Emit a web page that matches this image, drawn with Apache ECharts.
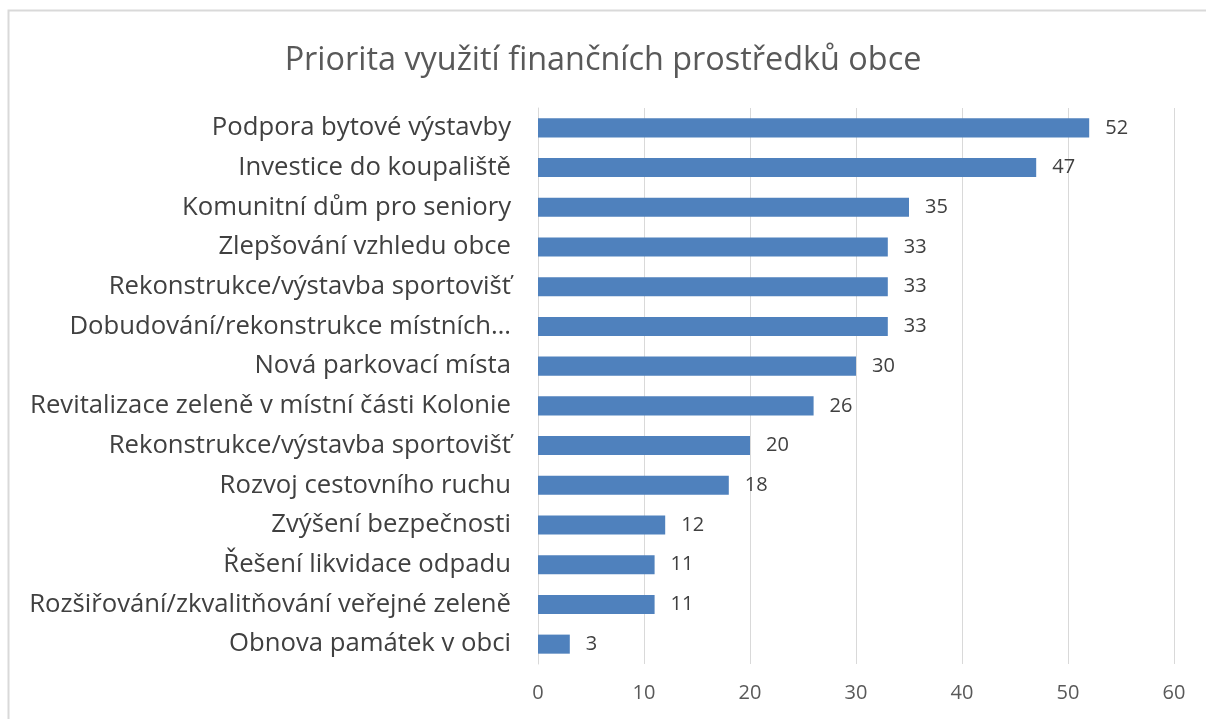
<!DOCTYPE html>
<html><head><meta charset="utf-8">
<script src="https://cdn.jsdelivr.net/npm/echarts@6/dist/echarts.min.js"></script>
<style>html,body{margin:0;padding:0;background:#fff}#c{width:1206px;height:719px}</style>
</head><body><div id="c"></div>
<script>
const title = 'Priorita využití finančních prostředků obce';
const categories = [
  'Podpora bytové výstavby',
  'Investice do koupaliště',
  'Komunitní dům pro seniory',
  'Zlepšování vzhledu obce',
  'Rekonstrukce/výstavba sportovišť',
  'Dobudování/rekonstrukce místních…',
  'Nová parkovací místa',
  'Revitalizace zeleně v místní části Kolonie',
  'Rekonstrukce/výstavba sportovišť',
  'Rozvoj cestovního ruchu',
  'Zvýšení bezpečnosti',
  'Řešení likvidace odpadu',
  'Rozšiřování/zkvalitňování veřejné zeleně',
  'Obnova památek v obci'
];
const values = [52, 47, 35, 33, 33, 33, 30, 26, 20, 18, 12, 11, 11, 3];
const xTicks = [0, 10, 20, 30, 40, 50, 60];

const font = '"Open Sans", "Noto Sans", sans-serif';
const chart = echarts.init(document.getElementById('c'));
chart.setOption({
  animation: false,
  title: {text: title, left: 'center', top: 40,
    textStyle: {fontFamily: font, fontSize: 32.4, fontWeight: 'normal', color: '#595959'}},
  graphic: [{type: 'rect', shape: {x: 8.5, y: 10.5, width: 1300, height: 800},
    style: {fill: 'none', stroke: '#d9d9d9', lineWidth: 2}, silent: true}],
  grid: {left: 538, right: 32, top: 108, bottom: 55},
  xAxis: {type: 'value', min: xTicks[0], max: xTicks[xTicks.length-1], interval: 10,
    axisLine: {show: false}, axisTick: {show: false},
    splitLine: {lineStyle: {color: '#d9d9d9', width: 1}},
    axisLabel: {fontFamily: font, fontSize: 20, color: '#595959', margin: 19}},
  yAxis: {type: 'category', data: categories, inverse: true,
    axisLine: {show: true, lineStyle: {color: '#d9d9d9'}}, axisTick: {show: false},
    axisLabel: {fontFamily: font, fontSize: 25.7, color: '#404040', margin: 27}},
  series: [{type: 'bar', data: values, barWidth: '48%',
    itemStyle: {color: '#4f81bd'},
    label: {show: true, position: 'right', distance: 16, fontFamily: font, fontSize: 20, color: '#404040'}}]
});
</script></body></html>
